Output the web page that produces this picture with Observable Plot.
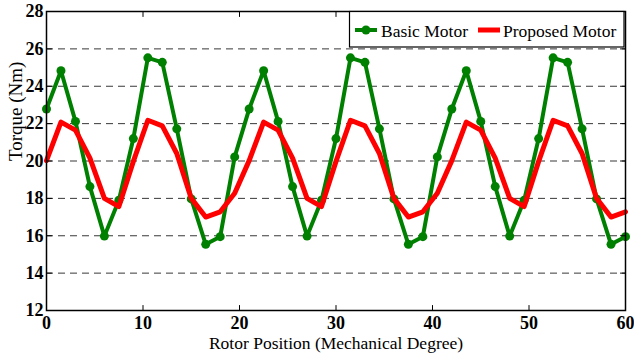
<!DOCTYPE html>
<html>
<head>
<meta charset="utf-8">
<script src="https://cdn.jsdelivr.net/npm/d3@7"></script>
<script src="https://cdn.jsdelivr.net/npm/@observablehq/plot@0.6"></script>
<style>
  html, body { margin: 0; padding: 0; background: #fff; }
  #chart { width: 634px; height: 360px; }
</style>
</head>
<body>
<div id="chart"></div>
<script>
// Rotor position (mechanical degrees)
const positions = [0, 1.5, 3, 4.5, 6, 7.5, 9, 10.5, 12, 13.5, 15, 16.5, 18, 19.5,
  21, 22.5, 24, 25.5, 27, 28.5, 30, 31.5, 33, 34.5, 36, 37.5, 39, 40.5,
  42, 43.5, 45, 46.5, 48, 49.5, 51, 52.5, 54, 55.5, 57, 58.5, 60];

// Torque (Nm) - Basic Motor
const basicTorque = [22.78, 24.83, 22.12, 18.63, 15.98, 17.9, 21.2, 25.52, 25.28, 21.72, 17.97, 15.54, 15.95, 20.22,
  22.78, 24.83, 22.12, 18.63, 15.98, 17.9, 21.2, 25.52, 25.28, 21.72, 17.97, 15.54, 15.95, 20.22,
  22.78, 24.83, 22.12, 18.63, 15.98, 17.9, 21.2, 25.52, 25.28, 21.72, 17.97, 15.54, 15.95];

// Torque (Nm) - Proposed Motor
const proposedTorque = [20.02, 22.08, 21.65, 20.15, 18.0, 17.56, 19.98, 22.18, 21.88, 20.4, 18.0, 17.0, 17.28, 18.27,
  20.02, 22.08, 21.65, 20.15, 18.0, 17.56, 19.98, 22.18, 21.88, 20.4, 18.0, 17.0, 17.28, 18.27,
  20.02, 22.08, 21.65, 20.15, 18.0, 17.56, 19.98, 22.18, 21.88, 20.4, 18.0, 17.0, 17.28];

const seriesNames = ["Basic Motor", "Proposed Motor"];
const xTicks = [0, 10, 20, 30, 40, 50, 60];
const yTicks = [12, 14, 16, 18, 20, 22, 24, 26, 28];
const gridTicks = [14, 16, 18, 20, 22, 24, 26];
const xLabel = "Rotor Position (Mechanical Degree)";
const yLabel = "Torque (Nm)";

const basic = positions.map((p, i) => ({x: p, y: basicTorque[i]}));
const proposed = positions.map((p, i) => ({x: p, y: proposedTorque[i]}));

const GREEN = "#008000", RED = "#ff0000";
const FONT = "'Liberation Serif', 'Times New Roman', serif";

const tickShape = {draw(context, l) { context.moveTo(0, 0); context.lineTo(0, -l); }};

const chart = Plot.plot({
  width: 634,
  height: 360,
  marginLeft: 46,
  marginRight: 9,
  marginTop: 11,
  marginBottom: 50,
  style: {fontFamily: FONT, fontSize: "18px", background: "#fff", color: "#000"},
  x: {domain: [0, 60]},
  y: {domain: [12, 28]},
  marks: [
    Plot.gridY(gridTicks, {stroke: "#222", strokeOpacity: 0.9, strokeWidth: 1, strokeDasharray: "7,5"}),
    Plot.line(basic, {x: "x", y: "y", stroke: GREEN, strokeWidth: 4, strokeLinejoin: "round"}),
    Plot.dot(basic, {x: "x", y: "y", r: 4.5, fill: GREEN, stroke: "none"}),
    Plot.line(proposed, {x: "x", y: "y", stroke: RED, strokeWidth: 5, strokeLinejoin: "round"}),
    // inward ticks
    Plot.vector(xTicks, {x: d => d, frameAnchor: "bottom", length: 5, rotate: 0, anchor: "start", shape: tickShape, stroke: "#000", strokeWidth: 1}),
    Plot.vector(xTicks, {x: d => d, frameAnchor: "top", length: 5, rotate: 180, anchor: "start", shape: tickShape, stroke: "#000", strokeWidth: 1}),
    Plot.vector(yTicks, {y: d => d, frameAnchor: "left", length: 5, rotate: 90, anchor: "start", shape: tickShape, stroke: "#000", strokeWidth: 1}),
    Plot.vector(yTicks, {y: d => d, frameAnchor: "right", length: 5, rotate: -90, anchor: "start", shape: tickShape, stroke: "#000", strokeWidth: 1}),
    Plot.frame({stroke: "#000", strokeWidth: 1.5}),
    Plot.axisX(xTicks, {tickSize: 0, tickPadding: 6, fontWeight: "bold", fontSize: 18, label: null}),
    Plot.axisY(yTicks, {tickSize: 0, tickPadding: 3, fontWeight: "bold", fontSize: 18, label: null}),
    Plot.text([xLabel], {text: d => d, frameAnchor: "bottom", dy: 38, fontSize: 17.5, fill: "#000"}),
    Plot.text([yLabel], {text: d => d, frameAnchor: "left", dx: -31, rotate: -90, fontSize: 19, fill: "#000"})
  ]
});

document.getElementById("chart").appendChild(chart);

// Legend inside the plot (top-right)
const svg = d3.select(chart);
const lg = svg.append("g")
  .attr("font-family", FONT)
  .attr("font-size", 17.5)
  .attr("text-anchor", "start");
lg.append("rect").attr("x", 349.5).attr("y", 11.5).attr("width", 274.5).attr("height", 35.5)
  .attr("fill", "#fff").attr("stroke", "#000").attr("stroke-width", 1.2);
lg.append("line").attr("x1", 355).attr("x2", 377).attr("y1", 30).attr("y2", 30)
  .attr("stroke", GREEN).attr("stroke-width", 4);
lg.append("circle").attr("cx", 366).attr("cy", 30).attr("r", 4.5).attr("fill", GREEN);
lg.append("text").attr("x", 381).attr("y", 36.5).attr("fill", "#000")
  .attr("text-anchor", "start").text(seriesNames[0]);
lg.append("line").attr("x1", 478).attr("x2", 500).attr("y1", 30).attr("y2", 30)
  .attr("stroke", RED).attr("stroke-width", 5);
lg.append("text").attr("x", 503).attr("y", 36.5).attr("fill", "#000")
  .attr("text-anchor", "start").text(seriesNames[1]);
</script>
</body>
</html>
